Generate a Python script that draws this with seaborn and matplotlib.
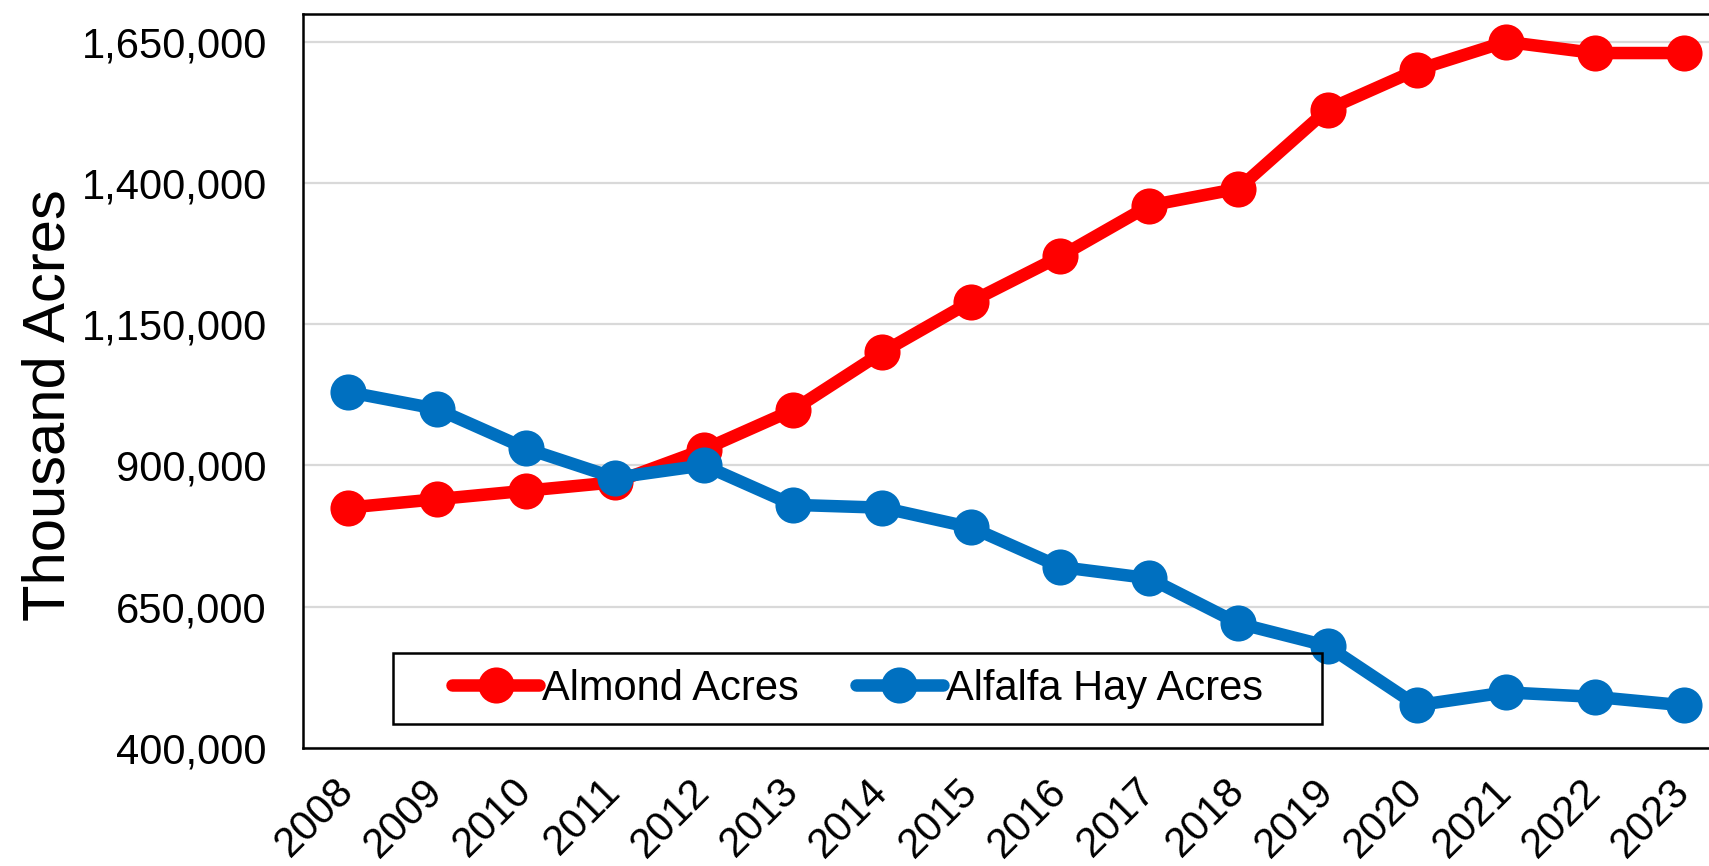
import matplotlib
matplotlib.use("Agg")
import matplotlib.pyplot as plt
import matplotlib.ticker as mticker
from matplotlib.patches import Rectangle
import seaborn as sns
import pandas as pd

years = list(range(2008, 2024))
almond_acres = [825000, 840000, 855000, 870000, 928000, 998000, 1100000, 1190000,
                1270000, 1360000, 1390000, 1530000, 1600000, 1650000, 1630000, 1630000]
alfalfa_acres = [1030000, 1000000, 930000, 878000, 900000, 830000, 825000, 790000,
                 720000, 700000, 620000, 580000, 475000, 498000, 490000, 475000]
series_names = ["Almond Acres", "Alfalfa Hay Acres"]
y_ticks = [400000, 650000, 900000, 1150000, 1400000, 1650000]

df = pd.DataFrame({
    "Year": years * 2,
    "Acres": almond_acres + alfalfa_acres,
    "Series": [series_names[0]] * len(years) + [series_names[1]] * len(years),
})

sns.set_theme(style="white")
plt.rcParams["font.family"] = ["Liberation Sans", "DejaVu Sans"]
plt.rcParams["text.color"] = "black"

fig = plt.figure(figsize=(17.09, 8.66), dpi=100)
ax = fig.add_axes([0.1773, 0.1366, 0.8341, 0.8478])

sns.lineplot(data=df, x="Year", y="Acres", hue="Series", hue_order=series_names,
             palette=["#FF0000", "#0070C0"], marker="o", markersize=26,
             markeredgewidth=0, linewidth=9, ax=ax, legend=False, zorder=3)

ax.set_xlim(2007.5, 2023.5)
ax.set_ylim(400000, 1700000)
ax.set_xticks(years)
ax.set_yticks(y_ticks)
ax.yaxis.set_major_formatter(mticker.FuncFormatter(lambda v, p: f"{v:,.0f}"))
ax.grid(axis="y", color="#d9d9d9", linewidth=1.6, zorder=0)
ax.grid(axis="x", visible=False)
ax.set_axisbelow(True)

for s in ax.spines.values():
    s.set_color("black")
    s.set_linewidth(1.8)

ax.tick_params(axis="y", length=0, pad=26, labelsize=30, colors="black")
ax.tick_params(axis="x", length=0, pad=27, labelsize=30, colors="black")
for lbl in ax.get_xticklabels():
    lbl.set_rotation(45)
    lbl.set_ha("right")
    lbl.set_va("center")
    lbl.set_rotation_mode("anchor")

ax.set_xlabel("")
ax.set_ylabel("Thousand Acres", fontsize=43, color="black")
ax.yaxis.set_label_coords(-0.159, 0.467)

# legend with a separate box drawn around it
handles = ax.get_lines()[:2]
ax.legend(handles, series_names, loc="center", bbox_to_anchor=(0.389, 0.0804),
          ncol=2, frameon=False, fontsize=30, handlelength=2.08,
          handletextpad=0.07, columnspacing=1.38, labelcolor="black")
ax.add_patch(Rectangle((0.0631, 0.0323), 0.6517, 0.0963, transform=ax.transAxes,
                       fill=False, edgecolor="black", linewidth=1.8, zorder=4))

fig.savefig("out.png", dpi=100)
